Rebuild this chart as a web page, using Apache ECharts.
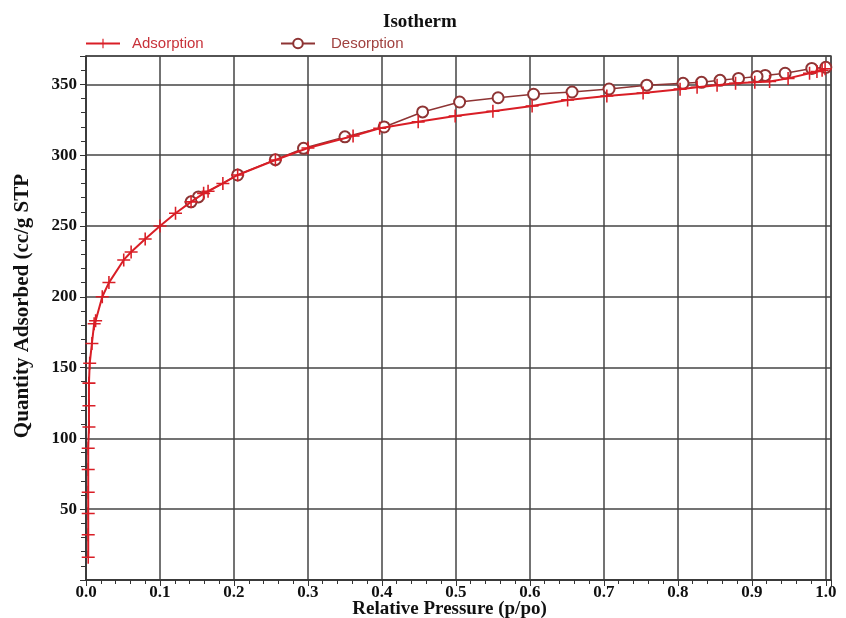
<!DOCTYPE html>
<html><head><meta charset="utf-8">
<script src="https://cdn.jsdelivr.net/npm/echarts@6/dist/echarts.min.js"></script>
<style>html,body{margin:0;padding:0;background:#fff}#c{width:846px;height:618px}</style>
</head><body><div id="c"></div>
<script>
const adsP = [0.003,0.003,0.003,0.003,0.003,0.003,0.004,0.004,0.004,0.005,0.008,0.011,0.013,0.022,0.031,0.051,0.061,0.080,0.100,0.121,0.142,0.159,0.165,0.185,0.205,0.256,0.300,0.361,0.397,0.449,0.499,0.550,0.603,0.651,0.704,0.753,0.803,0.826,0.853,0.878,0.904,0.924,0.949,0.978,0.988,0.995,0.999];
const adsV = [16,32,47,62,78,93,108,123,139,153,167,181,183,200,210,226,231.6,240.8,250,259,267,273,274.5,280,286,296.6,305,313.5,319,323.5,327.7,331,334.7,339,341.7,343.8,346.6,347.9,349.4,350.7,351.4,352,354.2,357.8,359,360,361];
const desP = [1.000,0.981,0.945,0.918,0.907,0.882,0.857,0.832,0.807,0.758,0.707,0.657,0.605,0.557,0.505,0.455,0.403,0.350,0.294,0.256,0.205,0.152,0.142];
const desV = [362,361.2,357.8,356.3,355.6,354.2,352.8,351.4,350.7,349.4,346.7,344.6,343,340.5,337.5,330.5,319.9,312.9,304.8,296.8,286,270.5,267];
const xTicks = ['0.0','0.1','0.2','0.3','0.4','0.5','0.6','0.7','0.8','0.9','1.0'];

const ADS = '#d91e26', DES = '#8e3434';
const plus = 'path://M4.4,0h1.2v4.4h4.4v1.2h-4.4v4.4h-1.2v-4.4h-4.4v-1.2h4.4z';
const serifBold = {fontFamily:'Liberation Serif', fontWeight:'bold', color:'#111'};
const legendBase = {top:36, padding:0, itemWidth:34, itemHeight:12};
const chart = echarts.init(document.getElementById('c'));
chart.setOption({
  animation:false,
  title:{text:'Isotherm', left:378, top:8, textStyle:Object.assign({fontSize:19}, serifBold)},
  legend:[
    Object.assign({left:85, data:[{name:'Adsorption'}],
      textStyle:{fontFamily:'Liberation Sans', fontSize:15, color:'#c8323a', padding:[0,0,0,7]}}, legendBase),
    Object.assign({left:280, data:[{name:'Desorption'}],
      textStyle:{fontFamily:'Liberation Sans', fontSize:15, color:'#a0413f', padding:[0,0,0,11]}}, legendBase)
  ],
  grid:{left:86, right:15, top:56, bottom:38, show:true, borderColor:'#555', borderWidth:1.5,
    outerBoundsMode:'none', containLabel:false},
  xAxis:{type:'value', min:0, max:1.007, interval:0.1,
    name:'Relative Pressure (p/po)', nameLocation:'middle', nameGap:20, nameMoveOverlap:false,
    nameTextStyle:Object.assign({fontSize:19, padding:[0,18,0,0]}, serifBold),
    axisLine:{lineStyle:{color:'#333', width:1.5}},
    axisTick:{show:true, length:6, lineStyle:{color:'#333'}},
    minorTick:{show:true, splitNumber:5, length:4, lineStyle:{color:'#333'}},
    splitLine:{show:true, lineStyle:{color:'#444', width:1.5}},
    axisLabel:Object.assign({fontSize:17, margin:4, showMaxLabel:false,
      formatter:v=>{const i=Math.round(v*10); return Math.abs(v-i/10)<1e-6 ? xTicks[i] : '';}}, serifBold)},
  yAxis:{type:'value', min:0, max:370, interval:50,
    name:'Quantity Adsorbed (cc/g STP', nameLocation:'middle', nameGap:53, nameMoveOverlap:false,
    nameTextStyle:Object.assign({fontSize:21, padding:[0,0,0,24]}, serifBold),
    axisLine:{lineStyle:{color:'#333', width:1.5}},
    axisTick:{show:true, length:6, lineStyle:{color:'#333'}},
    minorTick:{show:true, splitNumber:5, length:5, lineStyle:{color:'#333'}},
    splitLine:{show:true, lineStyle:{color:'#444', width:1.5}},
    axisLabel:Object.assign({fontSize:17, margin:9, showMinLabel:false, showMaxLabel:false}, serifBold)},
  series:[
    {name:'Adsorption', type:'line', data:adsP.map((p,i)=>[p,adsV[i]]),
     symbol:plus, symbolSize:13, color:ADS, lineStyle:{color:ADS, width:2},
     itemStyle:{color:ADS}, z:3},
    {name:'Desorption', type:'line', data:desP.map((p,i)=>[p,desV[i]]),
     symbol:'emptyCircle', symbolSize:11, color:DES, lineStyle:{color:DES, width:1.5},
     itemStyle:{color:DES, borderColor:DES, borderWidth:1.3}, z:2}
  ]
});
</script></body></html>
